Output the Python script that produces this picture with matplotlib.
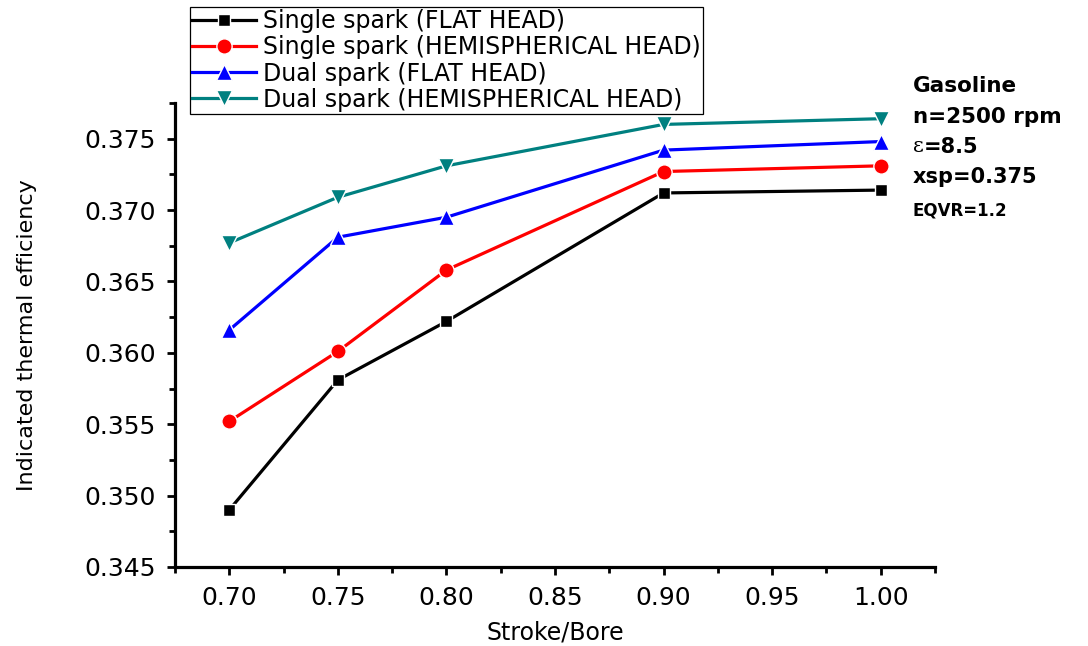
import matplotlib
matplotlib.use("Agg")
import matplotlib.pyplot as plt
from matplotlib.ticker import MultipleLocator

# ---- data ----
stroke_bore = [0.70, 0.75, 0.80, 0.90, 1.00]
single_flat = [0.3490, 0.3581, 0.3622, 0.3712, 0.3714]
single_hemi = [0.3552, 0.3601, 0.3658, 0.3727, 0.3731]
dual_flat = [0.3616, 0.3681, 0.3695, 0.3742, 0.3748]
dual_hemi = [0.3677, 0.3709, 0.3731, 0.3760, 0.3764]

series_labels = ["Single spark (FLAT HEAD)",
                 "Single spark (HEMISPHERICAL HEAD)",
                 "Dual spark (FLAT HEAD)",
                 "Dual spark (HEMISPHERICAL HEAD)"]
series_colors = ["#000000", "#FF0000", "#0000FF", "#008080"]
series_markers = ["s", "o", "^", "v"]

x_ticks = [0.70, 0.75, 0.80, 0.85, 0.90, 0.95, 1.00]
x_ticklabels = ["0.70", "0.75", "0.80", "0.85", "0.90", "0.95", "1.00"]
y_ticks = [0.345, 0.350, 0.355, 0.360, 0.365, 0.370, 0.375]
y_ticklabels = ["0.345", "0.350", "0.355", "0.360", "0.365", "0.370", "0.375"]

x_label = "Stroke/Bore"
y_label = "Indicated thermal efficiency"

# ---- figure ----
W, H = 1088, 646
fig = plt.figure(figsize=(W / 100, H / 100), dpi=100)
ax = fig.add_axes([175 / W, 1 - 567 / H, (935 - 175) / W, (567 - 103) / H])

handles = []
for ys, lab, col, mk in zip([single_flat, single_hemi, dual_flat, dual_hemi],
                            series_labels, series_colors, series_markers):
    msize = 9 if mk == "s" else 11
    h, = ax.plot(stroke_bore, ys, color=col, lw=2.3, marker=mk, markersize=msize,
                 markerfacecolor=col, markeredgecolor="white", markeredgewidth=1.0,
                 label=lab, clip_on=False, zorder=3)
    handles.append(h)

ax.set_xlim(0.675, 1.025)
ax.set_ylim(0.345, 0.3775)

for s in ["top", "right"]:
    ax.spines[s].set_visible(False)
for s in ["left", "bottom"]:
    ax.spines[s].set_linewidth(2.3)

ax.set_xticks(x_ticks)
ax.set_xticklabels(x_ticklabels)
ax.set_yticks(y_ticks)
ax.set_yticklabels(y_ticklabels)
ax.xaxis.set_minor_locator(MultipleLocator(0.025))
ax.yaxis.set_minor_locator(MultipleLocator(0.0025))
ax.tick_params(which="major", direction="out", length=6, width=2, labelsize=18)
ax.tick_params(axis="y", which="major", pad=8)
ax.tick_params(axis="x", which="major", pad=8)
ax.tick_params(which="minor", direction="out", length=4, width=2)

ax.set_xlabel(x_label, fontsize=17)
ax.xaxis.set_label_coords(0.5, (567 - 632) / (567 - 103), transform=ax.transAxes)
ax.xaxis.label.set_va("center")
ax.set_ylabel(y_label, fontsize=16)
ax.yaxis.set_label_coords((27 - 175) / (935 - 175), 0.5, transform=ax.transAxes)
ax.yaxis.label.set_va("center")

leg = fig.legend(handles=handles, labels=series_labels, loc="upper left",
                 bbox_to_anchor=(190 / W, 1 - 7 / H), frameon=True, fancybox=False,
                 edgecolor="black", framealpha=1, fontsize=17, handlelength=2.7,
                 handletextpad=0.3, labelspacing=0.09, borderpad=0.1,
                 borderaxespad=0)
leg.get_frame().set_linewidth(0.9)

tx = 913 / W
fig.text(tx, 1 - 86 / H, "Gasoline", fontsize=15.5, fontweight="bold", va="center", ha="left")
fig.text(tx, 1 - 117 / H, "n=2500 rpm", fontsize=15.5, fontweight="bold", va="center", ha="left")
eps = fig.text(tx, 1 - 147 / H, "ε", fontsize=15, family="DejaVu Serif", va="center", ha="left")
ax.annotate("=8.5", xy=(1, 0.5), xycoords=eps, va="center", ha="left",
            fontsize=15, fontweight="bold", annotation_clip=False)
fig.text(tx, 1 - 177 / H, "xsp=0.375", fontsize=15, fontweight="bold", va="center", ha="left")
fig.text(tx, 1 - 210 / H, "EQVR=1.2", fontsize=12, fontweight="bold", va="center", ha="left")

fig.savefig("out.png", dpi=100)
